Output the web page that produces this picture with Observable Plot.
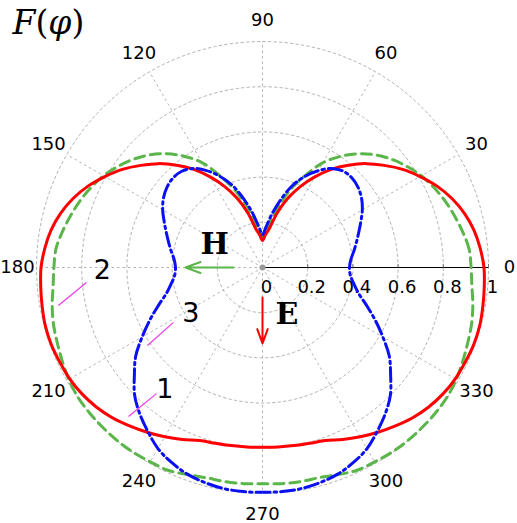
<!DOCTYPE html>
<html><head><meta charset="utf-8">
<script src="https://cdn.jsdelivr.net/npm/d3@7"></script>
<script src="https://cdn.jsdelivr.net/npm/@observablehq/plot@0.6"></script>
<style>body{margin:0;background:#fff}</style>
</head><body><div id="chart"></div>
<script>
// sampling angles (degrees)
const angles = [0,5,10,15,20,25,30,35,40,45,50,55,60,65,70,75,80,85,
  90,95,100,105,110,115,120,125,130,135,140,145,150,155,160,165,170,175,
  180,185,190,195,200,205,210,215,220,225,230,235,240,245,250,255,260,265,
  270,275,280,285,290,295,300,305,310,315,320,325,330,335,340,345,350,355];
// curve 1: red solid
const rRed = [0.98,0.967,0.95,0.925,0.892,0.852,0.805,0.757,0.703,0.65,0.591,0.53,0.463,0.395,0.325,0.25,0.175,0.145,
  0.12,0.145,0.175,0.25,0.325,0.395,0.463,0.53,0.591,0.65,0.703,0.757,0.805,0.852,0.892,0.925,0.95,0.967,
  0.98,0.985,0.99,0.995,0.995,0.99,0.985,0.975,0.96,0.94,0.915,0.89,0.865,0.84,0.815,0.805,0.80,0.797,
  0.795,0.797,0.80,0.805,0.815,0.84,0.865,0.89,0.915,0.94,0.96,0.975,0.985,0.99,0.995,0.995,0.99,0.985];
// curve 2: green dashed
const rGreen = [0.923,0.918,0.90,0.88,0.86,0.837,0.812,0.78,0.745,0.705,0.657,0.60,0.536,0.45,0.37,0.285,0.21,0.165,
  0.135,0.165,0.21,0.285,0.37,0.45,0.536,0.60,0.657,0.705,0.745,0.78,0.812,0.837,0.86,0.88,0.90,0.918,
  0.923,0.93,0.945,0.958,0.967,0.978,0.99,0.998,1.0,1.0,1.0,0.998,0.993,0.99,0.975,0.963,0.962,0.96,
  0.957,0.96,0.962,0.963,0.975,0.99,0.993,0.998,1.0,1.0,1.0,0.998,0.99,0.978,0.967,0.958,0.945,0.93];
// curve 3: blue dash-dot
const rBlue = [0.385,0.392,0.41,0.43,0.453,0.48,0.51,0.535,0.552,0.56,0.556,0.535,0.495,0.445,0.385,0.31,0.24,0.18,
  0.146,0.18,0.24,0.31,0.385,0.445,0.495,0.535,0.556,0.56,0.552,0.535,0.51,0.48,0.453,0.43,0.41,0.392,
  0.385,0.39,0.41,0.44,0.49,0.55,0.615,0.685,0.74,0.80,0.845,0.885,0.925,0.952,0.973,0.985,0.993,0.995,
  0.995,0.995,0.993,0.985,0.973,0.952,0.925,0.885,0.845,0.80,0.74,0.685,0.615,0.55,0.49,0.44,0.41,0.39];

const gridRadii = [0.2, 0.4, 0.6, 0.8, 1.0];
const spokeAngles = [0,30,60,90,120,150,180,210,240,270,300,330];
const angleLabels = ["0","30","60","90","120","150","180","210","240","270","300","330"];
const radialTicks = [0, 0.2, 0.4, 0.6, 0.8, 1];
const radialLabels = ["0","0.2","0.4","0.6","0.8","1"];

// annotations (data units)
const curveNames = ["1","2","3"];
const curveNamePos = [[-0.432,-0.541],[-0.709,-0.013],[-0.317,-0.204]];
const leaders = [[-0.593,-0.659,-0.469,-0.558],[-0.903,-0.168,-0.779,-0.066],[-0.509,-0.345,-0.394,-0.243]];
const fieldNames = ["H","E"];
const fieldPos = [[-0.212,0.102],[0.108,-0.209]];
const fieldArrows = [[-0.128,0,-0.341,0,"#5ab54a"],[0,-0.133,0,-0.336,"#ff0000"]];

const rad = a => a * Math.PI / 180;
const pol = (r, a) => ({x: r * Math.cos(rad(a)), y: r * Math.sin(rad(a))});
const curve = rs => angles.map((a, i) => pol(rs[i], a));
const circleSteps = d3.range(0, 361, 2);
const gridCircles = gridRadii.flatMap(r => circleSteps.map(a => ({...pol(r, a), r})));
const spokes = spokeAngles.map(a => ({x1: 0, y1: 0, x2: pol(1, a).x, y2: pol(1, a).y}));
const angleText = spokeAngles.map((a, i) => ({...pol(1.093, a), t: angleLabels[i], a}));
const radialText = radialTicks.map((r, i) => ({x: r, y: 0, t: radialLabels[i]}));

const R = 226;
const plot = Plot.plot({
  width: 517, height: 523, margin: 0,
  x: {type: "linear", domain: [-262 / R, 255 / R], axis: null},
  y: {type: "linear", domain: [-256 / R, 267 / R], axis: null},
  style: {fontFamily: "DejaVu Sans", background: "#fff"},
  marks: [
    Plot.line(gridCircles, {x: "x", y: "y", z: "r", stroke: "#b4b4b4", strokeWidth: 1, strokeDasharray: "2.5,3"}),
    Plot.link(spokes, {x1: "x1", y1: "y1", x2: "x2", y2: "y2", stroke: "#b4b4b4", strokeWidth: 1, strokeDasharray: "2.5,3"}),
    Plot.link([0], {x1: 0, y1: 0, x2: 1, y2: 0, stroke: "#000", strokeWidth: 1.2}),
    Plot.link(radialTicks.slice(1), {x1: d => d, x2: d => d, y1: 0, y2: 0.016, stroke: "#777", strokeWidth: 1}),
    Plot.dot([0], {x: 0, y: 0, r: 3, fill: "#999", stroke: "none"}),
    Plot.text(angleText.filter(d => d.a !== 180), {x: "x", y: "y", text: "t", fontSize: 18, fill: "#000"}),
    Plot.text(angleText.filter(d => d.a === 180), {x: "x", y: "y", text: "t", fontSize: 18, dx: 2, fill: "#000"}),
    Plot.text(radialText, {x: "x", y: "y", text: "t", fontSize: 18, dx: 4, dy: 20, fill: "#000"}),
    Plot.line(curve(rGreen), {x: "x", y: "y", curve: "catmull-rom-closed", stroke: "#5ab54a", strokeWidth: 3, strokeDasharray: "10,6"}),
    Plot.line(curve(rRed), {x: "x", y: "y", curve: "catmull-rom-closed", stroke: "#ff0000", strokeWidth: 3}),
    Plot.line(curve(rBlue), {x: "x", y: "y", curve: "catmull-rom-closed", stroke: "#0a10f5", strokeWidth: 3, strokeDasharray: "14,4,2.5,4"}),
    Plot.link(leaders, {x1: d => d[0], y1: d => d[1], x2: d => d[2], y2: d => d[3], stroke: "#e83ce8", strokeWidth: 1.2}),
    Plot.text(curveNames, {x: (d, i) => curveNamePos[i][0], y: (d, i) => curveNamePos[i][1], text: d => d, fontSize: 27, fill: "#000"}),
    Plot.arrow(fieldArrows, {x1: d => d[0], y1: d => d[1], x2: d => d[2], y2: d => d[3], stroke: d => d[4], strokeWidth: 2, headLength: 14, headAngle: 40}),
    Plot.text(fieldNames, {x: (d, i) => fieldPos[i][0], y: (d, i) => fieldPos[i][1], text: d => d, fontSize: 30, fontWeight: "bold", fontFamily: "DejaVu Serif", fill: "#000"}),
    Plot.text(["F(φ)"], {frameAnchor: "top-left", dx: 12, dy: 23, textAnchor: "start", lineAnchor: "middle", fontSize: 33, fontFamily: "DejaVu Serif", fill: "#000", className: "ftitle"})
  ]
});
// style title glyphs: italic letters, upright parentheses
const t = d3.select(plot).select(".ftitle text");
t.text(null);
[["F", "italic"], ["(", "normal"], ["φ", "italic"], [")", "normal"]].forEach(([s, st]) =>
  t.append("tspan").attr("font-style", st).text(s));
document.getElementById("chart").appendChild(plot);
</script>
</body></html>
